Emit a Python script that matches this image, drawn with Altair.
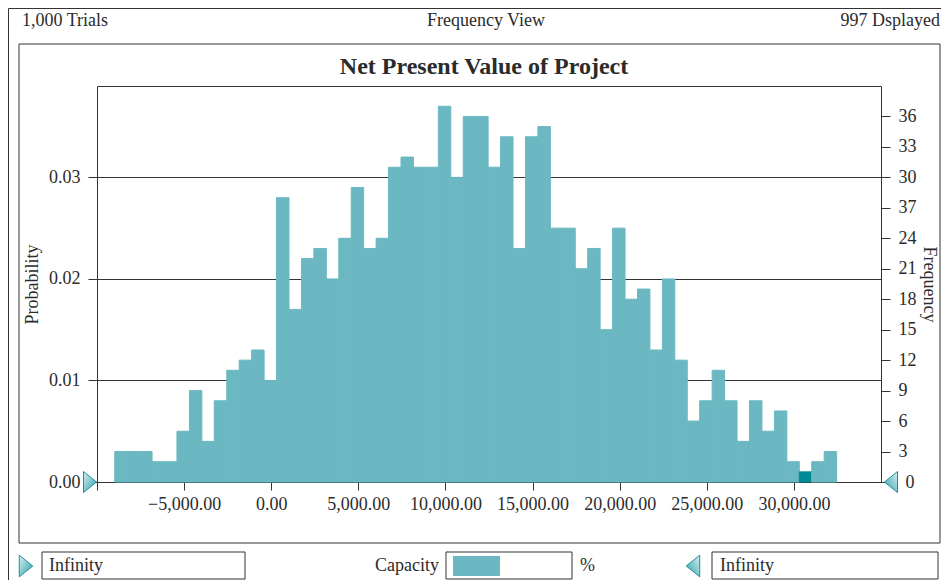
import altair as alt
import pandas as pd

# ---------------- data ----------------
trials = 1000
bin_edges = [-8982, -8268, -7553, -6839, -6124, -5410, -4696, -3981, -3267, -2552,
             -1838, -1124, -409, 305, 1020, 1734, 2448, 3163, 3877, 4592,
             5306, 6020, 6735, 7449, 8164, 8878, 9592, 10307, 11021, 11736,
             12450, 13164, 13879, 14593, 15308, 16022, 16736, 17451, 18165, 18880,
             19594, 20308, 21023, 21737, 22452, 23166, 23880, 24595, 25309, 26024,
             26738, 27452, 28167, 28881, 29596, 30310, 31024, 31739, 32453]
counts = [3, 3, 3, 2, 2, 5, 9, 4, 8, 11,
          12, 13, 10, 28, 17, 22, 23, 20, 24, 29,
          23, 24, 31, 32, 31, 31, 37, 30, 36, 36,
          31, 34, 23, 34, 35, 25, 25, 21, 23, 15,
          25, 18, 19, 13, 20, 12, 6, 8, 11, 8,
          4, 8, 5, 7, 2, 1, 2, 3]
highlight_bin = 55
x_ticks = [-10000, -5000, 0, 5000, 10000, 15000, 20000, 25000, 30000]
prob_ticks = [0.0, 0.01, 0.02, 0.03]
freq_ticks = [0, 3, 6, 9, 12, 15, 18, 21, 24, 27, 30, 33, 36]

header_left = "1,000 Trials"
header_mid = "Frequency View"
header_right = "997 Dsplayed"
chart_title = "Net Present Value of Project"
left_title = "Probability"
right_title = "Frequency"
bound_text = "Infinity"
capacity_text = "Capacity"
pct_text = "%"

# ---------------- style ----------------
FONT = "Liberation Serif"
TXT = "#2b2b2b"
LINE = "#333333"
TEAL = "#6bb8c2"
DARK = "#008a96"

df = pd.DataFrame({"start": bin_edges[:-1], "end": bin_edges[1:], "count": counts})
df["prob"] = df["count"] / trials
df["base"] = 0
df["hl"] = [i == highlight_bin for i in range(len(counts))]

W, H = 784, 396

x_enc = alt.X(
    "start:Q",
    scale=alt.Scale(domain=[-10000, 35000], nice=False, zero=False, padding=0),
    axis=alt.Axis(values=x_ticks, format=",.2f",
                  labelExpr="datum.value <= -10000 ? '' : datum.label",
                  title=None, grid=False, domain=False, tickSize=8, labelPadding=5,
                  labelFlush=False, labelOverlap=False),
)
x2_enc = alt.X2("end:Q")

bars = alt.Chart(df).mark_rect(strokeWidth=1).encode(
    x=x_enc, x2=x2_enc,
    y=alt.Y("prob:Q", scale=alt.Scale(domain=[0, 0.039], nice=False, padding=0),
            axis=alt.Axis(orient="left", values=prob_ticks, format=".2f", grid=True,
                          gridColor=LINE, gridWidth=1, domain=False, tickSize=9,
                          labelPadding=8, title=left_title, titleX=-65, titleY=198,
                          titleAngle=270, titleAlign="center", titleBaseline="middle")),
    y2=alt.Y2("base:Q"),
    color=alt.condition("datum.hl", alt.value(DARK), alt.value(TEAL)),
    stroke=alt.condition("datum.hl", alt.value(DARK), alt.value(TEAL)),
)

freq = alt.Chart(df).mark_rect(opacity=0).encode(
    x=x_enc, x2=x2_enc,
    y=alt.Y("count:Q", scale=alt.Scale(domain=[0, 39], nice=False, padding=0),
            axis=alt.Axis(orient="right", values=freq_ticks, format="d",
                          labelExpr="datum.value == 27 ? '37' : datum.label",
                          grid=False, domain=False, tickSize=9,
                          labelPadding={"condition": {"test": "datum.value === 0", "value": 15}, "value": 8},
                          title=right_title, titleX=47, titleY=198, titleAngle=90,
                          titleAlign="center", titleBaseline="middle")),
    y2=alt.Y2("base:Q"),
)


def text_layer(s, x, y, align="left", size=18, weight="normal"):
    return alt.Chart(pd.DataFrame({"t": [s]})).mark_text(
        align=align, baseline="middle", font=FONT, fontSize=size,
        fontWeight=weight, color=TXT
    ).encode(x=alt.value(x), y=alt.value(y), text="t:N")


def rect_layer(x, x2, y, y2, fill="white", stroke=LINE, sw=1.0, fo=1.0):
    return alt.Chart(pd.DataFrame({"k": [0]})).mark_rect(
        fill=fill, fillOpacity=fo, stroke=stroke, strokeWidth=sw
    ).encode(x=alt.value(x), x2=alt.value(x2), y=alt.value(y), y2=alt.value(y2))


TRI_R = "M -0.62 -1 L 0.62 0 L -0.62 1 Z"
TRI_L = "M 0.62 -1 L -0.62 0 L 0.62 1 Z"
grad_r = alt.LinearGradient(gradient="linear", x1=0, y1=0, x2=1, y2=1,
                            stops=[alt.GradientStop(offset=0, color="#d9f0f2"),
                                   alt.GradientStop(offset=1, color="#2a9eab")])
grad_l = alt.LinearGradient(gradient="linear", x1=1, y1=0, x2=0, y2=1,
                            stops=[alt.GradientStop(offset=0, color="#d9f0f2"),
                                   alt.GradientStop(offset=1, color="#2a9eab")])


def tri_layer(path, grad, x, y, size):
    return alt.Chart(pd.DataFrame({"k": [0]})).mark_point(
        shape=path, filled=True, fill=grad, fillOpacity=1, stroke="#1b8f9b",
        strokeWidth=1, size=size, opacity=1
    ).encode(x=alt.value(x), y=alt.value(y))


frames = [
    rect_layer(-88.5, 870, -77.5, 520, fill="white", fo=0),
    rect_layer(-78, 843, -42, 457, fill="white", fo=0),
]
headers = [
    text_layer(header_left, -75, -65, "left"),
    text_layer(header_mid, 389, -65, "center"),
    text_layer(header_right, 843, -65, "right"),
    text_layer(chart_title, 387, -19, "center", size=24, weight="bold"),
]
bottom = [
    rect_layer(-55, 148, 466, 493),
    text_layer(bound_text, -48, 480, "left"),
    text_layer(capacity_text, 342, 480, "right"),
    rect_layer(349, 475, 466, 493),
    rect_layer(356, 403, 470, 490, fill=TEAL, stroke=TEAL, sw=0),
    text_layer(pct_text, 483, 480, "left"),
    rect_layer(615, 841, 466, 493),
    text_layer(bound_text, 623, 480, "left"),
    tri_layer(TRI_R, grad_r, -71, 480, 470),
    tri_layer(TRI_L, grad_l, 596, 480, 470),
]
markers = [
    tri_layer(TRI_R, grad_r, -7, 396, 441),
    tri_layer(TRI_L, grad_l, 794, 396, 441),
]

chart = alt.layer(bars, freq, *frames, *headers, *bottom, *markers).resolve_scale(
    y="independent"
).properties(
    width=W, height=H,
    autosize=alt.AutoSizeParams(type="none"),
    padding={"left": 89, "top": 78, "right": 60, "bottom": 98},
).configure_view(
    stroke=LINE, strokeWidth=1
).configure_axis(
    labelFont=FONT, labelFontSize=18, labelColor=TXT,
    titleFont=FONT, titleFontSize=18, titleColor=TXT, titleFontWeight="normal",
    tickColor=LINE, tickWidth=1,
)

chart.save("out.html", embed_options={"renderer": "svg", "actions": False})
